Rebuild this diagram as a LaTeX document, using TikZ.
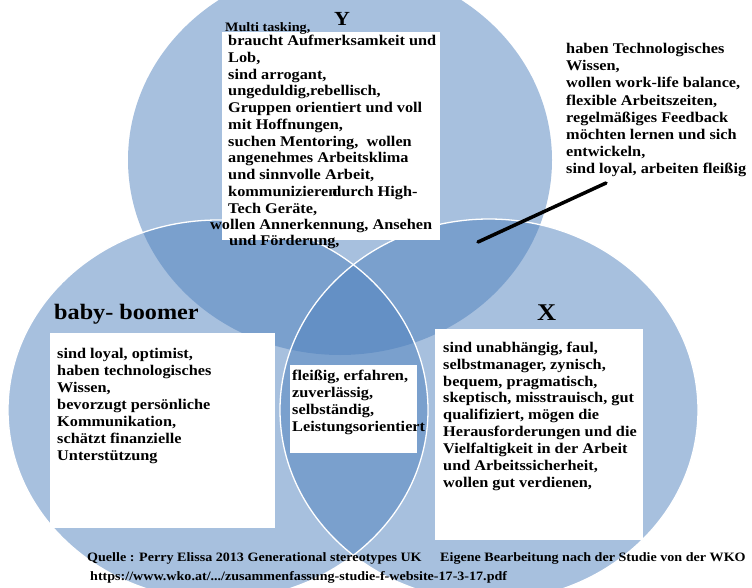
\documentclass[tikz,border=0pt]{standalone}
\usepackage{fontspec}
\setmainfont{Liberation Serif}[FakeStretch=1.1]
\definecolor{vblue}{RGB}{79,129,189}
\begin{document}
\begin{tikzpicture}[x=1pt,y=-1pt,
  venn/.style={fill=vblue, fill opacity=0.5},
  rim/.style={draw=white, line width=1.3pt},
  wbox/.style={fill=white},
  body/.style={anchor=north west, inner sep=0pt, align=left,
    font=\bfseries\fontsize{14.8}{16.9}\selectfont},
  single/.style={anchor=base west, inner sep=0pt,
    font=\bfseries\fontsize{14.8}{16.9}\selectfont},
  title/.style={anchor=base, inner sep=0pt},
  src/.style={anchor=base west, inner sep=0pt,
    font=\bfseries\fontsize{12.8}{14}\selectfont},
  pointer/.style={draw=black, line width=3.5pt, line cap=round}]
\useasboundingbox (0,0) rectangle (752,587);
\clip (0,0) rectangle (752,587);
% circles
\fill[venn] (340,160) ellipse [x radius=212pt, y radius=195pt];
\fill[venn] (218,410) ellipse [x radius=210pt, y radius=190pt];
\fill[venn] (489,410) ellipse [x radius=209pt, y radius=191pt];
\draw[rim] (218,410) ellipse [x radius=210pt, y radius=190pt];
\draw[rim] (489,410) ellipse [x radius=209pt, y radius=191pt];
% white boxes
\fill[wbox] (222,32) rectangle (440,240);
\fill[wbox] (50,333) rectangle (275,528);
\fill[wbox] (290,365) rectangle (417,453);
\fill[wbox] (435,329) rectangle (643,540);
% titles
\node[title, font=\bfseries\fontsize{20}{22}\selectfont] (ylab) at (342,25) {Y};
\node[title, font=\bfseries\fontsize{24}{26}\selectfont] (xlab) at (546.7,320) {X};
\node[anchor=base west, inner sep=0pt, font=\bfseries\fontsize{22}{24}\selectfont] (bblab) at (54,319) {baby- boomer};
% Y texts
\node[anchor=base west, inner sep=0pt, font=\bfseries\fontsize{12.9}{14}\selectfont] (multi) at (225,31.5) {Multi tasking,};
\node[body, font=\bfseries\fontsize{14.8}{16.75}\selectfont] (ytext) at (228,35) {braucht Aufmerksamkeit und\\Lob,\\sind arrogant,\\ungeduldig,rebellisch,\\Gruppen orientiert und voll\\mit Hoffnungen,\\suchen Mentoring,\ \ wollen\\angenehmes Arbeitsklima\\und sinnvolle Arbeit,\\kommunizieren\kern-5pt durch High-\\Tech Geräte,};
\node[single] (ytext2) at (210,229.4) {wollen Annerkennung, Ansehen};
\node[single] (ytext3) at (229,245.1) {und Förderung,};
% right top text
\node[body, font=\bfseries\fontsize{14.8}{17.1}\selectfont] (ztext) at (566,43.3) {haben Technologisches\\Wissen,\\wollen work-life balance,\\flexible Arbeitszeiten,\\regelmäßiges Feedback\\möchten lernen und sich\\entwickeln,\\sind loyal, arbeiten fleißig};
% baby boomer text
\node[body] (bbtext) at (57,348.3) {sind loyal, optimist,\\haben technologisches\\Wissen,\\bevorzugt persönliche\\Kommunikation,\\schätzt finanzielle\\Unterstützung};
% centre text
\node[body] (ctext) at (292,370.3) {fleißig, erfahren,\\zuverlässig,\\selbständig,\\Leistungsorientiert};
% X text
\node[body] (xtext) at (443,341.6) {sind unabhängig, faul,\\selbstmanager, zynisch,\\bequem, pragmatisch,\\skeptisch, misstrauisch, gut\\qualifiziert, mögen die\\Herausforderungen und die\\Vielfaltigkeit in der Arbeit\\und Arbeitssicherheit,\\wollen gut verdienen,};
% sources
\node[src] (src1) at (87,561) {Quelle : Perry Elissa 2013 Generational stereotypes UK};
\node[src] (src2) at (440,561) {Eigene Bearbeitung nach der Studie von der WKO};
\node[src] (src3) at (90,580) {https://www.wko.at/.../zusammenfassung-studie-f-website-17-3-17.pdf};
% pointer line
\coordinate (lineA) at (478,242);
\coordinate (lineB) at (606,183);
\draw[pointer] (lineA) -- (lineB);
\end{tikzpicture}
\end{document}
